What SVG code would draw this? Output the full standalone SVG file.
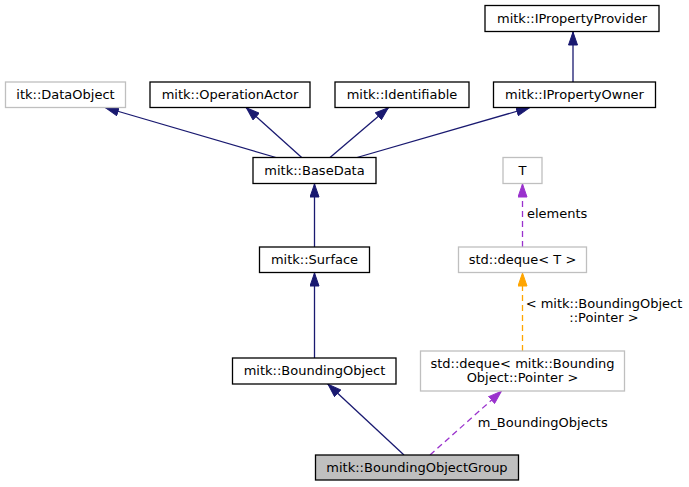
<svg xmlns="http://www.w3.org/2000/svg" width="689" height="487" viewBox="0 0 689 487">
<defs>
<style>
text{font-family:"DejaVu Sans","Liberation Sans",sans-serif;font-size:13px;fill:#000;}
.n rect{fill:#fff;stroke:#000;stroke-width:1.3;}
.n.g rect{stroke:#bfbfbf;}
.n.cur rect{fill:#bfbfbf;}
.n text{text-anchor:middle;}
.e{fill:none;stroke-width:1.3;}
.nav{stroke:#191970;marker-end:url(#an);}
.pur{stroke:#9a32cd;stroke-dasharray:6,4;marker-end:url(#ap);}
.org{stroke:#ffa500;stroke-dasharray:6,4;marker-end:url(#ao);}
</style>
<marker id="an" viewBox="0 0 14 10" refX="14" refY="5" markerWidth="14" markerHeight="10" markerUnits="userSpaceOnUse" orient="auto"><path d="M0.5,0.5 L13.5,5 L0.5,9.5 z" fill="#191970" stroke="#191970"/></marker>
<marker id="ap" viewBox="0 0 14 10" refX="14" refY="5" markerWidth="14" markerHeight="10" markerUnits="userSpaceOnUse" orient="auto"><path d="M0.5,0.5 L13.5,5 L0.5,9.5 z" fill="#9a32cd" stroke="#9a32cd"/></marker>
<marker id="ao" viewBox="0 0 14 10" refX="14" refY="5" markerWidth="14" markerHeight="10" markerUnits="userSpaceOnUse" orient="auto"><path d="M0.5,0.5 L13.5,5 L0.5,9.5 z" fill="#ffa500" stroke="#ffa500"/></marker>
</defs>
<rect width="689" height="487" fill="#fff"/>
<g id="edges">
<path class="e nav" d="M573,82 L573,31.5"/>
<path class="e nav" d="M276,157.5 L105,107.5"/>
<path class="e nav" d="M301.7,157.5 L246,107.5"/>
<path class="e nav" d="M330,157.5 L388.7,107.5"/>
<path class="e nav" d="M357,157.5 L530,107.5"/>
<path class="e nav" d="M314.5,247 L314.5,183.5"/>
<path class="e nav" d="M314.5,358 L314.5,272.5"/>
<path class="e nav" d="M404,455 L327.7,384"/>
<path class="e pur" d="M522.5,247 L522.5,183.5"/>
<path class="e pur" d="M430,455 L501.7,391"/>
<path class="e org" d="M522.5,351 L522.5,272.5"/>
<text x="527" y="218">elements</text>
<text x="604" y="308" text-anchor="middle">&lt; mitk::BoundingObject</text>
<text x="604" y="322" text-anchor="middle">::Pointer &gt;</text>
<text x="477.7" y="427">m_BoundingObjects</text>
</g>
<g id="IPropertyProvider" class="n"><rect x="485" y="5.5" width="174" height="26"/><text x="572" y="22.5">mitk::IPropertyProvider</text></g>
<g id="DataObject" class="n g"><rect x="5.5" y="82" width="120" height="25.5"/><text x="65.5" y="99">itk::DataObject</text></g>
<g id="OperationActor" class="n"><rect x="150" y="82" width="160" height="25.5"/><text x="230" y="99">mitk::OperationActor</text></g>
<g id="Identifiable" class="n"><rect x="335" y="82" width="134" height="25.5"/><text x="402" y="99">mitk::Identifiable</text></g>
<g id="IPropertyOwner" class="n"><rect x="493.5" y="82" width="162" height="25.5"/><text x="574.5" y="99">mitk::IPropertyOwner</text></g>
<g id="BaseData" class="n"><rect x="253" y="157.5" width="123" height="26"/><text x="314.5" y="175">mitk::BaseData</text></g>
<g id="T" class="n g"><rect x="503" y="157.5" width="39" height="26"/><text x="522.5" y="175">T</text></g>
<g id="Surface" class="n"><rect x="259.5" y="247" width="110" height="25.5"/><text x="314.5" y="264">mitk::Surface</text></g>
<g id="dequeT" class="n g"><rect x="458.5" y="247" width="128" height="25.5"/><text x="522.5" y="264">std::deque&lt; T &gt;</text></g>
<g id="BoundingObject" class="n"><rect x="232.5" y="358" width="163.5" height="26"/><text x="314.5" y="375">mitk::BoundingObject</text></g>
<g id="dequeBO" class="n g"><rect x="420.5" y="351" width="204" height="40"/><text x="522.5" y="367.5">std::deque&lt; mitk::Bounding</text><text x="522.5" y="381.5">Object::Pointer &gt;</text></g>
<g id="BoundingObjectGroup" class="n cur"><rect x="315.5" y="455" width="203" height="25"/><text x="417" y="471.5">mitk::BoundingObjectGroup</text></g>
</svg>
